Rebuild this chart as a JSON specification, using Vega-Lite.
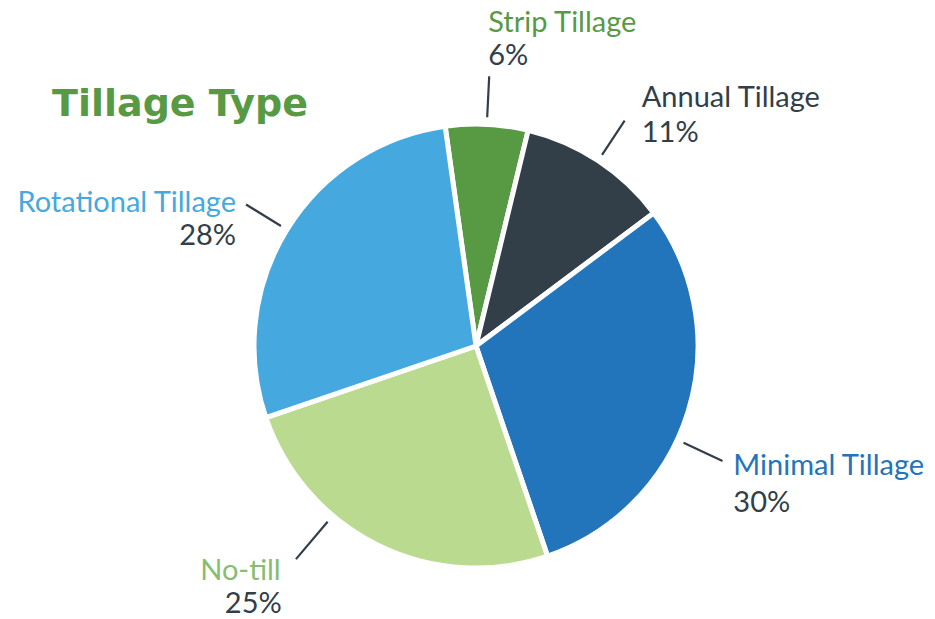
{
  "$schema": "https://vega.github.io/schema/vega-lite/v6.json",
  "width": 918,
  "height": 546,
  "autosize": {"type": "none"},
  "padding": {"left": 17, "top": 73, "right": 0, "bottom": 0},
  "background": "white",
  "config": {"view": {"stroke": null}},
  "title": {
    "text": "Tillage Type",
    "anchor": "start",
    "frame": "group",
    "orient": "top",
    "font": "DejaVu Sans",
    "fontSize": 38,
    "fontWeight": "bold",
    "color": "#579a43",
    "baseline": "alphabetic",
    "offset": 0,
    "dx": 35,
    "dy": 145
  },
  "data": {
    "values": [
      {"type": "Strip Tillage", "value": 6, "label": "6%"},
      {"type": "Annual Tillage", "value": 11, "label": "11%"},
      {"type": "Minimal Tillage", "value": 30, "label": "30%"},
      {"type": "No-till", "value": 25, "label": "25%"},
      {"type": "Rotational Tillage", "value": 28, "label": "28%"}
    ]
  },
  "transform": [
    {"window": [{"op": "sum", "field": "value", "as": "end"}], "frame": [null, 0]},
    {"calculate": "datum.end - datum.value", "as": "start"},
    {"calculate": "datum.end - datum.value / 2", "as": "mid"}
  ],
  "layer": [
    {
      "mark": {"type": "arc", "outerRadius": 222, "stroke": "white", "strokeWidth": 5},
      "encoding": {
        "theta": {"field": "start", "type": "quantitative", "stack": null, "scale": {"domain": [0, 100], "range": [-0.1396, 6.1436]}},
        "theta2": {"field": "end"},
        "color": {
          "field": "type",
          "type": "nominal",
          "scale": {
            "domain": ["Strip Tillage", "Annual Tillage", "Minimal Tillage", "No-till", "Rotational Tillage"],
            "range": ["#579a43", "#323e48", "#2274bb", "#badb8f", "#45a9df"]
          },
          "legend": null
        }
      }
    },
    {
      "transform": [{"filter": "datum.type != 'Minimal Tillage' && datum.type != 'No-till'"}],
      "mark": {"type": "arc", "filled": false, "innerRadius": 229, "outerRadius": 270, "stroke": "#323e48", "strokeWidth": 2.2},
      "encoding": {
        "theta": {"field": "mid", "type": "quantitative", "stack": null},
        "theta2": {"field": "mid"}
      }
    },
    {
      "transform": [{"filter": "datum.type == 'Minimal Tillage'"}],
      "mark": {"type": "arc", "filled": false, "innerRadius": 229, "outerRadius": 272, "stroke": "#323e48", "strokeWidth": 2.2, "thetaOffset": 0.136, "theta2Offset": 0.136},
      "encoding": {
        "theta": {"field": "mid", "type": "quantitative", "stack": null},
        "theta2": {"field": "mid"}
      }
    },
    {
      "transform": [{"filter": "datum.type == 'No-till'"}],
      "mark": {"type": "arc", "filled": false, "innerRadius": 230, "outerRadius": 279, "stroke": "#323e48", "strokeWidth": 2.2, "thetaOffset": 0.244, "theta2Offset": 0.244},
      "encoding": {
        "theta": {"field": "mid", "type": "quantitative", "stack": null},
        "theta2": {"field": "mid"}
      }
    },
    {
      "transform": [{"filter": "datum.type == 'Strip Tillage'"}],
      "mark": {"type": "text", "radius": 272, "align": "left", "baseline": "alphabetic", "dx": -1, "dy": -42.6, "font": "Lato", "fontSize": 29, "color": "#579a43"},
      "encoding": {"theta": {"field": "mid", "type": "quantitative", "stack": null}, "text": {"field": "type"}}
    },
    {
      "transform": [{"filter": "datum.type == 'Strip Tillage'"}],
      "mark": {"type": "text", "radius": 272, "align": "left", "baseline": "alphabetic", "dx": -1, "dy": -9.3, "font": "Lato", "fontSize": 29, "color": "#323e48"},
      "encoding": {"theta": {"field": "mid", "type": "quantitative", "stack": null}, "text": {"field": "label"}}
    },
    {
      "transform": [{"filter": "datum.type == 'Annual Tillage'"}],
      "mark": {"type": "text", "radius": 272, "align": "left", "baseline": "alphabetic", "dx": 16, "dy": -11.6, "font": "Lato", "fontSize": 29, "color": "#323e48"},
      "encoding": {"theta": {"field": "mid", "type": "quantitative", "stack": null}, "text": {"field": "type"}}
    },
    {
      "transform": [{"filter": "datum.type == 'Annual Tillage'"}],
      "mark": {"type": "text", "radius": 272, "align": "left", "baseline": "alphabetic", "dx": 16, "dy": 22.8, "font": "Lato", "fontSize": 29, "color": "#323e48"},
      "encoding": {"theta": {"field": "mid", "type": "quantitative", "stack": null}, "text": {"field": "label"}}
    },
    {
      "transform": [{"filter": "datum.type == 'Minimal Tillage'"}],
      "mark": {"type": "text", "radius": 272, "align": "left", "baseline": "alphabetic", "dx": -2.5, "dy": 48.6, "font": "Lato", "fontSize": 29, "color": "#2274bb"},
      "encoding": {"theta": {"field": "mid", "type": "quantitative", "stack": null}, "text": {"field": "type"}}
    },
    {
      "transform": [{"filter": "datum.type == 'Minimal Tillage'"}],
      "mark": {"type": "text", "radius": 272, "align": "left", "baseline": "alphabetic", "dx": -2.5, "dy": 85.3, "font": "Lato", "fontSize": 29, "color": "#323e48"},
      "encoding": {"theta": {"field": "mid", "type": "quantitative", "stack": null}, "text": {"field": "label"}}
    },
    {
      "transform": [{"filter": "datum.type == 'No-till'"}],
      "mark": {"type": "text", "radius": 272, "align": "right", "baseline": "alphabetic", "dx": -75.2, "dy": -10.1, "font": "Lato", "fontSize": 29, "color": "#86bd6e"},
      "encoding": {"theta": {"field": "mid", "type": "quantitative", "stack": null}, "text": {"field": "type"}}
    },
    {
      "transform": [{"filter": "datum.type == 'No-till'"}],
      "mark": {"type": "text", "radius": 272, "align": "right", "baseline": "alphabetic", "dx": -74.2, "dy": 23.2, "font": "Lato", "fontSize": 29, "color": "#323e48"},
      "encoding": {"theta": {"field": "mid", "type": "quantitative", "stack": null}, "text": {"field": "label"}}
    },
    {
      "transform": [{"filter": "datum.type == 'Rotational Tillage'"}],
      "mark": {"type": "text", "radius": 272, "align": "right", "baseline": "alphabetic", "dx": -8.3, "dy": 8.2, "font": "Lato", "fontSize": 29, "color": "#45a9df"},
      "encoding": {"theta": {"field": "mid", "type": "quantitative", "stack": null}, "text": {"field": "type"}}
    },
    {
      "transform": [{"filter": "datum.type == 'Rotational Tillage'"}],
      "mark": {"type": "text", "radius": 272, "align": "right", "baseline": "alphabetic", "dx": -8.3, "dy": 41.5, "font": "Lato", "fontSize": 29, "color": "#323e48"},
      "encoding": {"theta": {"field": "mid", "type": "quantitative", "stack": null}, "text": {"field": "label"}}
    }
  ]
}
